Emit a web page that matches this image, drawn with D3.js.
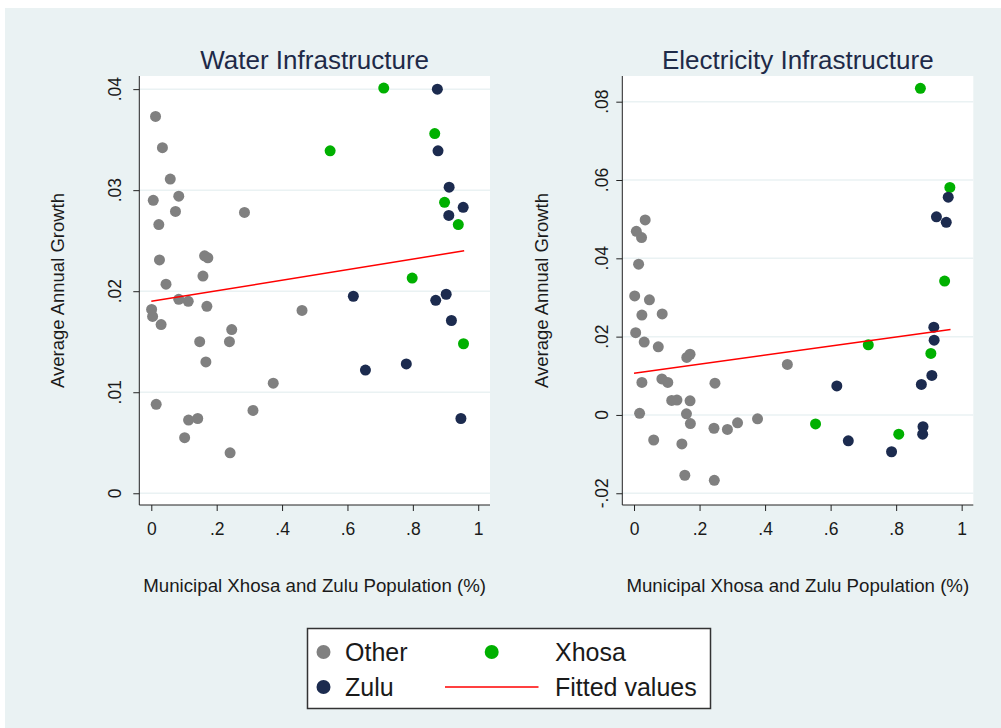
<!DOCTYPE html>
<html><head><meta charset="utf-8">
<script src="https://cdn.jsdelivr.net/npm/d3@7"></script>
<style>body{margin:0;background:#fff}svg{display:block}text{font-family:"Liberation Sans",Arial,sans-serif}</style>
</head><body>
<svg id="chart" width="1001" height="728"></svg>
<script>
// ---------- DATA ----------
const xTicks = [0, 0.2, 0.4, 0.6, 0.8, 1];
const xTickLabels = ["0", ".2", ".4", ".6", ".8", "1"];
const waterYTicks = [0, 0.01, 0.02, 0.03, 0.04];
const waterYTickLabels = ["0", ".01", ".02", ".03", ".04"];
const elecYTicks = [-0.02, 0, 0.02, 0.04, 0.06, 0.08];
const elecYTickLabels = ["-.02", "0", ".02", ".04", ".06", ".08"];

// Water infrastructure [x, y]
const waterOther = [[0.013,0.0373],[0.034,0.0342],[0.058,0.0311],[0.006,0.0290],[0.084,0.0294],[0.074,0.0279],
  [0.023,0.0266],[0.285,0.0278],[0.025,0.0231],[0.163,0.0235],[0.173,0.0233],[0.158,0.0215],[0.045,0.0207],
  [0.084,0.0192],[0.113,0.0190],[0.001,0.0182],[0.004,0.0175],[0.170,0.0185],[0.030,0.0167],[0.461,0.0181],
  [0.246,0.0162],[0.148,0.0150],[0.239,0.0150],[0.167,0.0130],[0.373,0.0109],[0.015,0.0088],[0.311,0.0082],
  [0.114,0.00725],[0.142,0.0074],[0.102,0.0055],[0.241,0.0040]];
const waterXhosa = [[0.711,0.0401],[0.547,0.0339],[0.867,0.0356],[0.897,0.0288],[0.939,0.0266],[0.798,0.0213],[0.955,0.0148]];
const waterZulu = [[0.875,0.0400],[0.877,0.0339],[0.911,0.0303],[0.954,0.0283],[0.910,0.0275],[0.618,0.0195],
  [0.902,0.0197],[0.870,0.0191],[0.918,0.0171],[0.655,0.0122],[0.780,0.0128],[0.947,0.0074]];
const waterFit = [[0, 0.0190], [0.957, 0.0240]];

// Electricity infrastructure [x, y]
const elecOther = [[0.034,0.0498],[0.007,0.0469],[0.023,0.0453],[0.014,0.0385],[0.002,0.0304],[0.047,0.0294],
  [0.024,0.0255],[0.086,0.0258],[0.005,0.0210],[0.031,0.0186],[0.074,0.0174],[0.161,0.0147],[0.171,0.0155],
  [0.468,0.0129],[0.024,0.0083],[0.085,0.0092],[0.103,0.0083],[0.247,0.0081],[0.115,0.0037],[0.131,0.0038],
  [0.171,0.0036],[0.017,0.0004],[0.160,0.0003],[0.172,-0.0022],[0.377,-0.0010],[0.244,-0.0034],[0.285,-0.0037],
  [0.316,-0.0020],[0.060,-0.0064],[0.146,-0.0074],[0.155,-0.0154],[0.245,-0.0167]];
const elecXhosa = [[0.874,0.0834],[0.964,0.0581],[0.948,0.0342],[0.715,0.0179],[0.906,0.0157],[0.554,-0.0023],[0.808,-0.0049]];
const elecZulu = [[0.959,0.0556],[0.923,0.0506],[0.953,0.0492],[0.915,0.0224],[0.916,0.0191],[0.909,0.0101],
  [0.877,0.0078],[0.619,0.0074],[0.882,-0.0030],[0.881,-0.0049],[0.654,-0.0066],[0.786,-0.0094]];
const elecFit = [[0, 0.01065], [0.966, 0.0218]];

const titles = ["Water Infrastructure", "Electricity Infrastructure"];
const xTitle = "Municipal Xhosa and Zulu Population (%)";
const yTitle = "Average Annual Growth";
const legendLabels = ["Other", "Xhosa", "Zulu", "Fitted values"];

// ---------- STYLE ----------
const C = {bg:"#eaf2f3", other:"#808080", xhosa:"#00b000", zulu:"#1c2b4f", fit:"#ff0000", title:"#1e2a48", text:"#1a1a1a", axis:"#222"};

const svg = d3.select("#chart");
svg.append("rect").attr("x",5).attr("y",8).attr("width",996).attr("height",720).attr("fill",C.bg);

const panels = [
  {title:titles[0], box:{x0:139.3,x1:490,y0:76,y1:505}, xd:[-0.0367,1.036], yd:[-0.00116,0.0413],
   yTicks:waterYTicks, yLabels:waterYTickLabels, other:waterOther, xhosa:waterXhosa, zulu:waterZulu, fit:waterFit,
   yLabX:115, yTitleX:58},
  {title:titles[1], box:{x0:622.3,x1:973.3,y0:76,y1:505}, xd:[-0.0358,1.0355], yd:[-0.0230,0.08656],
   yTicks:elecYTicks, yLabels:elecYTickLabels, other:elecOther, xhosa:elecXhosa, zulu:elecZulu, fit:elecFit,
   yLabX:601.5, yTitleX:541.5}
];

panels.forEach(p => {
  const b = p.box;
  const x = d3.scaleLinear().domain(p.xd).range([b.x0, b.x1]);
  const y = d3.scaleLinear().domain(p.yd).range([b.y1, b.y0]);
  const g = svg.append("g");
  g.append("rect").attr("x",b.x0).attr("y",b.y0).attr("width",b.x1-b.x0).attr("height",b.y1-b.y0).attr("fill","#fff");
  // gridlines
  g.selectAll(".grid").data(p.yTicks).join("line")
    .attr("x1",b.x0).attr("x2",b.x1).attr("y1",d=>y(d)).attr("y2",d=>y(d))
    .attr("stroke",C.bg).attr("stroke-width",1.5);
  // axes
  const xAxis = d3.axisBottom(x).tickValues(xTicks).tickFormat((d,i)=>xTickLabels[i]).tickSize(6).tickPadding(6);
  const gx = g.append("g").attr("transform",`translate(0,${b.y1})`).call(xAxis);
  gx.select(".domain").attr("d",`M${b.x0},0H${b.x1}`).attr("stroke",C.axis);
  gx.selectAll(".tick line").attr("stroke",C.axis);
  gx.selectAll(".tick text").attr("font-size",17.5).attr("fill",C.text).attr("font-family","Liberation Sans, Arial, sans-serif").attr("dy","1.05em");
  const yAxis = d3.axisLeft(y).tickValues(p.yTicks).tickFormat((d,i)=>p.yLabels[i]).tickSize(6);
  const gy = g.append("g").attr("transform",`translate(${b.x0},0)`).call(yAxis);
  gy.select(".domain").attr("d",`M0,${b.y0}V${b.y1}`).attr("stroke",C.axis);
  gy.selectAll(".tick line").attr("stroke",C.axis);
  gy.selectAll(".tick text").remove();
  g.selectAll(".ylab").data(p.yTicks).join("text")
    .attr("transform",d=>`translate(${p.yLabX},${y(d)}) rotate(-90)`)
    .attr("text-anchor","middle").attr("dy","0.35em").attr("font-size",17.5).attr("fill",C.text)
    .text((d,i)=>p.yLabels[i]);
  // titles
  const cx = (b.x0 + b.x1)/2;
  g.append("text").attr("x",cx).attr("y",69).attr("text-anchor","middle").attr("font-size",26).attr("fill",C.title).text(p.title);
  g.append("text").attr("x",cx).attr("y",592).attr("text-anchor","middle").attr("font-size",18.7).attr("fill",C.text).text(xTitle);
  g.append("text").attr("transform",`translate(${p.yTitleX},${(b.y0+b.y1)/2}) rotate(-90)`)
    .attr("text-anchor","middle").attr("dy","0.35em").attr("font-size",18.5).attr("fill",C.text).text(yTitle);
  // points
  const dots = (data,col) => g.append("g").selectAll("circle").data(data).join("circle")
    .attr("cx",d=>x(d[0])).attr("cy",d=>y(d[1])).attr("r",5.5).attr("fill",col);
  dots(p.other, C.other);
  dots(p.xhosa, C.xhosa);
  dots(p.zulu, C.zulu);
  // fit line
  g.append("path").datum(p.fit).attr("d",d3.line().x(d=>x(d[0])).y(d=>y(d[1])))
    .attr("stroke",C.fit).attr("stroke-width",1.5).attr("fill","none");
});

// ---------- LEGEND ----------
const lg = svg.append("g");
lg.append("rect").attr("x",307.5).attr("y",628.5).attr("width",403).attr("height",80).attr("fill","#fff").attr("stroke","#333").attr("stroke-width",1.5);
const legendItems = [
  {label:legendLabels[0], type:"dot", color:C.other, mx:323.5, tx:345, cy:652},
  {label:legendLabels[1], type:"dot", color:C.xhosa, mx:491.7, tx:555, cy:652},
  {label:legendLabels[2], type:"dot", color:C.zulu, mx:323.5, tx:345, cy:687},
  {label:legendLabels[3], type:"line", color:C.fit, mx:445, mx2:538.5, tx:555, cy:687}
];
legendItems.forEach(it => {
  if (it.type === "dot") lg.append("circle").attr("cx",it.mx).attr("cy",it.cy).attr("r",7).attr("fill",it.color);
  else lg.append("line").attr("x1",it.mx).attr("x2",it.mx2).attr("y1",it.cy).attr("y2",it.cy).attr("stroke",it.color).attr("stroke-width",1.5);
  lg.append("text").attr("x",it.tx).attr("y",it.cy).attr("dy","0.36em").attr("font-size",25).attr("fill",C.text).text(it.label);
});
</script>
</body></html>
